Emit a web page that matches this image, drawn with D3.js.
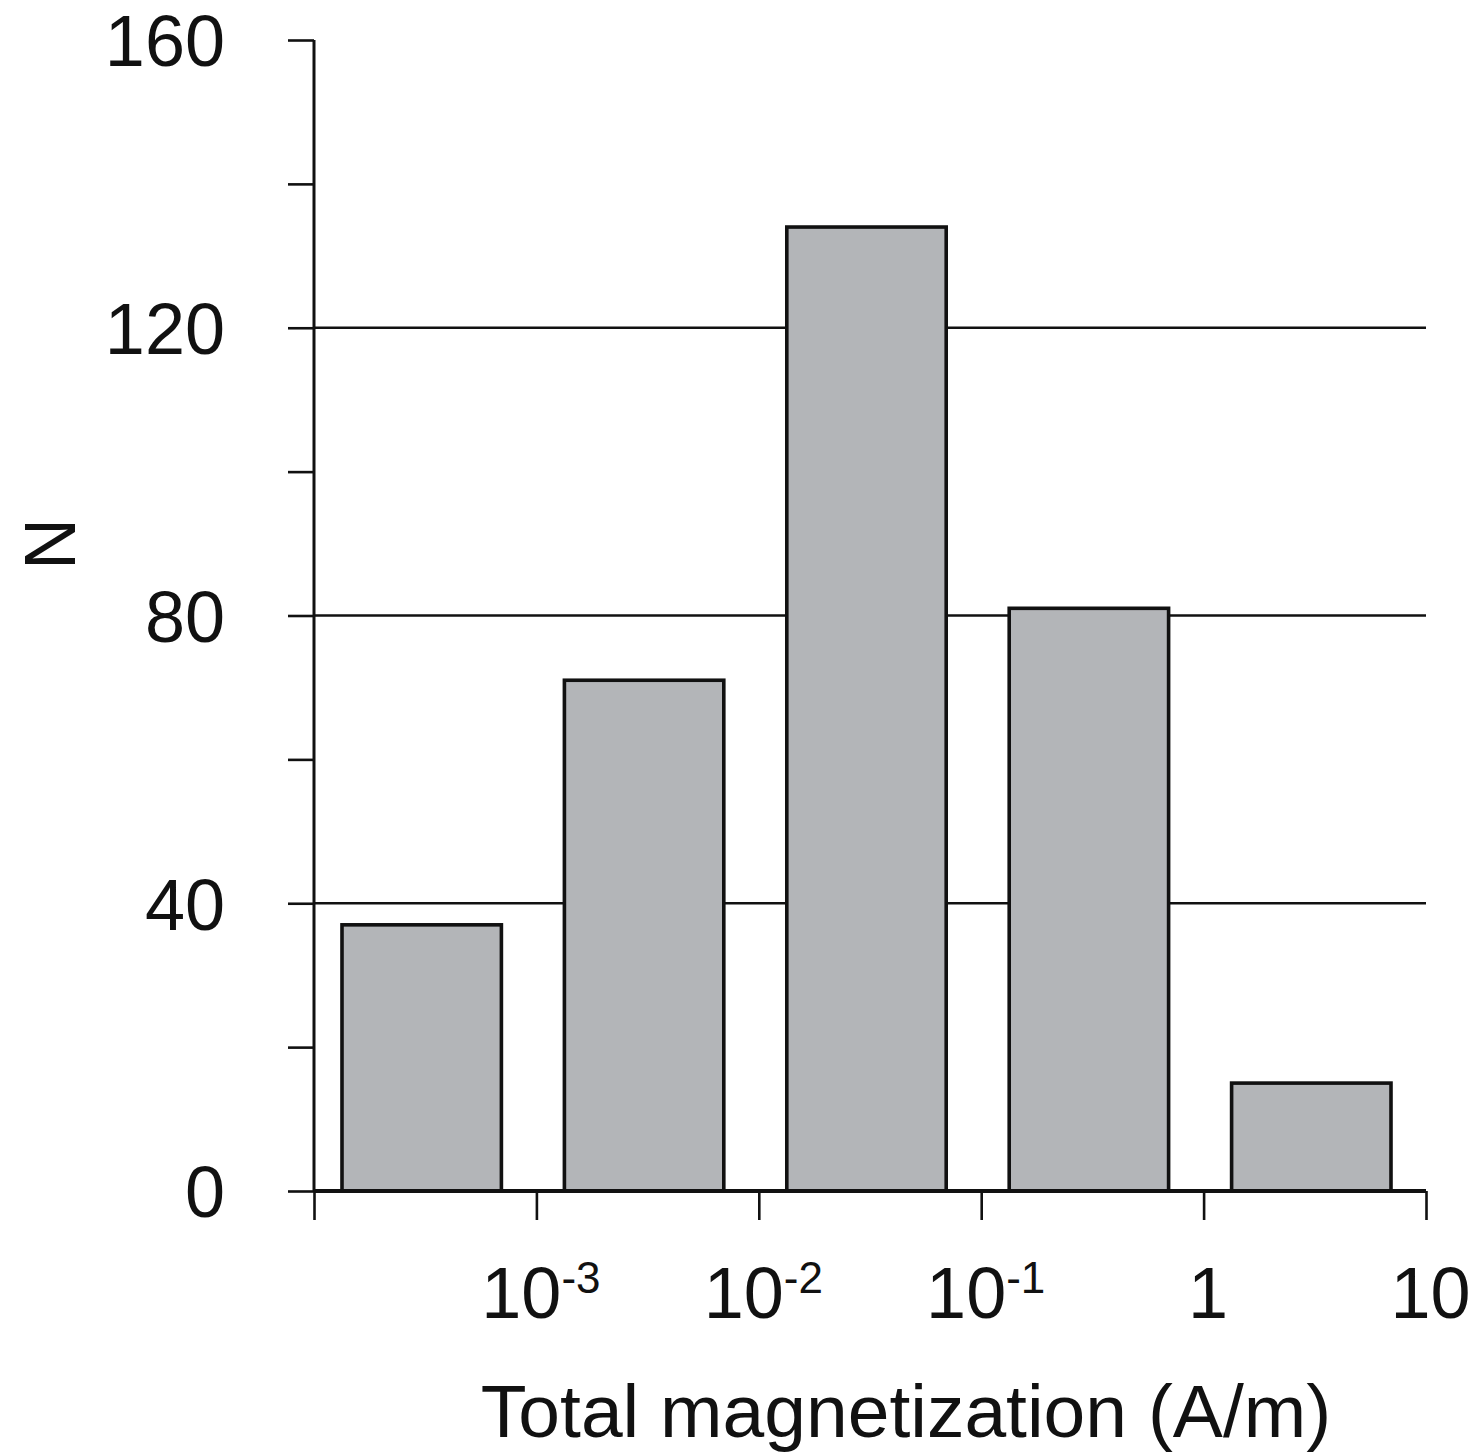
<!DOCTYPE html>
<html><head><meta charset="utf-8">
<script src="https://cdn.jsdelivr.net/npm/d3@7"></script>
<style>body{margin:0;background:#fff;} svg{display:block;}</style>
</head><body>
<svg id="chart" width="1478" height="1456"></svg>
<script>
const binLower = [1e-4, 1e-3, 1e-2, 1e-1, 1];
const binUpper = [1e-3, 1e-2, 1e-1, 1, 10];
const counts = [37, 71, 134, 81, 15];
const yTickValues = [0, 20, 40, 60, 80, 100, 120, 140, 160];
const yLabelValues = [0, 40, 80, 120, 160];
const gridValues = [40, 80, 120];
const xTickValues = [1e-4, 1e-3, 1e-2, 1e-1, 1, 10];
const xTickBase = ["", "10", "10", "10", "1", "10"];
const xTickExp = ["", "-3", "-2", "-1", "", ""];
const xTitle = "Total magnetization (A/m)";
const yTitle = "N";

const svg = d3.select("#chart");
const font = "'Liberation Sans', Arial, sans-serif";
const x = d3.scaleLog().domain([1e-4, 10]).range([314, 1426]);
const y = d3.scaleLinear().domain([0, 160]).range([1191, 40]);

// gridlines
svg.append("g").selectAll("line").data(gridValues).join("line")
  .attr("x1", 314).attr("x2", 1426)
  .attr("y1", d => y(d)).attr("y2", d => y(d))
  .attr("stroke", "#111").attr("stroke-width", 2.4);

// bars
const padL = 28, padR = 35;
svg.append("g").selectAll("rect").data(counts).join("rect")
  .attr("x", (d, i) => x(binLower[i]) + padL)
  .attr("width", (d, i) => x(binUpper[i]) - x(binLower[i]) - padL - padR)
  .attr("y", d => y(d))
  .attr("height", d => y(0) - y(d))
  .attr("fill", "#b3b5b8")
  .attr("stroke", "#111").attr("stroke-width", 3.6);

// y axis
const yAxis = svg.append("g").attr("transform", "translate(314,0)")
  .call(d3.axisLeft(y).tickValues(yTickValues).tickSize(26).tickPadding(63)
    .tickFormat(d => yLabelValues.includes(d) ? String(d) : ""));
yAxis.select(".domain").attr("d", `M0,${y(160)}V${y(0)}`).attr("stroke", "#111").attr("stroke-width", 3);
yAxis.selectAll(".tick line").attr("stroke", "#111").attr("stroke-width", 2.6);
yAxis.selectAll(".tick text").attr("font-family", font).attr("font-size", 72)
  .attr("fill", "#111").attr("dy", "0.36em");

// x axis
const xAxis = svg.append("g").attr("transform", `translate(0,${y(0)})`)
  .call(d3.axisBottom(x).tickValues(xTickValues).tickSize(29).tickFormat(() => ""));
xAxis.select(".domain").attr("d", `M${x(1e-4)},0H${x(10)}`).attr("stroke", "#111").attr("stroke-width", 4);
xAxis.selectAll(".tick line").attr("stroke", "#111").attr("stroke-width", 2.6);
xAxis.selectAll(".tick text").remove();
xAxis.selectAll(".tick").each(function(d, i) {
  if (!xTickBase[i]) return;
  const t = d3.select(this).append("text")
    .attr("y", 127).attr("x", 4).attr("text-anchor", "middle")
    .attr("font-family", font).attr("font-size", 72).attr("fill", "#111");
  t.append("tspan").text(xTickBase[i]);
  if (xTickExp[i]) {
    t.append("tspan").attr("font-size", 44).attr("dy", -25).text(xTickExp[i]);
  }
});

// axis titles
svg.append("text").attr("x", 906).attr("y", 1437).attr("text-anchor", "middle")
  .attr("font-family", font).attr("font-size", 75).attr("fill", "#111").text(xTitle);
svg.append("text").attr("transform", "translate(75,544) rotate(-90)").attr("text-anchor", "middle")
  .attr("font-family", font).attr("font-size", 72).attr("fill", "#111").text(yTitle);
</script>
</body></html>
